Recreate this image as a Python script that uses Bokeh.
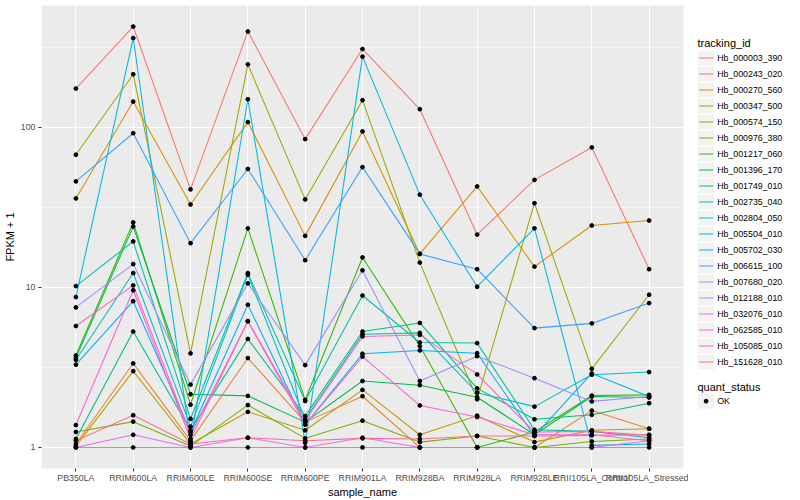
from bokeh.plotting import figure
from bokeh.models import Range1d, FixedTicker, PrintfTickFormatter, ColumnDataSource
from bokeh.layouts import row
from bokeh.core.properties import value
from bokeh.embed import file_html
from bokeh.resources import INLINE
import math

# ---------------- data ----------------
samples = ["PB350LA", "RRIM600LA", "RRIM600LE", "RRIM600SE", "RRIM600PE", "RRIM901LA",
           "RRIM928BA", "RRIM928LA", "RRIM928LE", "RRII105LA_Control", "RRII105LA_Stressed"]

Hb_000003_390 = [175, 427, 41, 398, 84.5, 309, 130, 21.4, 47, 75, 13]
Hb_000243_020 = [1.05, 3.35, 1.10, 3.62, 1.44, 2.09, 1.0, 1.0, 1.0, 1.7, 1.31]
Hb_000270_560 = [36, 145, 33, 108, 21, 94.4, 16.2, 42.8, 13.5, 24.4, 26.2]
Hb_000347_500 = [1.02, 3.0, 1.05, 1.67, 1.28, 2.29, 1.2, 1.58, 1.08, 1.28, 1.31]
Hb_000574_150 = [67.5, 215, 3.87, 248, 35.5, 148, 14.3, 2.0, 33.6, 3.1, 9.0]
Hb_000976_380 = [1.25, 1.45, 1.02, 1.84, 1.14, 1.47, 1.08, 1.18, 1.0, 1.09, 1.13]
Hb_001217_060 = [3.76, 25.5, 1.85, 23.4, 1.98, 15.4, 4.3, 1.0, 1.25, 2.11, 2.13]
Hb_001396_170 = [3.63, 24.0, 2.15, 2.1, 1.44, 2.6, 2.45, 2.06, 1.2, 2.08, 2.05]
Hb_001749_010 = [1.13, 5.3, 1.28, 4.77, 1.57, 5.3, 6.0, 2.34, 1.5, 1.6, 1.89]
Hb_002735_040 = [10.2, 19.4, 1.51, 12.3, 1.95, 8.9, 4.53, 4.49, 1.29, 1.26, 1.15]
Hb_002804_050 = [3.53, 12.3, 1.35, 12.0, 1.5, 5.1, 5.2, 2.2, 1.8, 2.85, 2.96]
Hb_005504_010 = [8.7, 362, 1.08, 150, 1.07, 277, 38, 10.1, 23.4, 1.03, 1.05]
Hb_005702_030 = [3.29, 8.2, 1.25, 7.8, 1.39, 3.85, 4.04, 3.88, 1.18, 2.9, 2.08]
Hb_006615_100 = [46, 92, 18.9, 55, 14.8, 56.5, 16.2, 13.0, 5.57, 5.96, 7.98]
Hb_007680_020 = [7.5, 14.0, 2.47, 10.6, 3.27, 12.8, 2.6, 3.72, 2.71, 1.94, 2.08]
Hb_012188_010 = [1.0, 1.0, 1.0, 1.0, 1.0, 1.0, 1.0, 1.0, 1.0, 1.0, 1.0]
Hb_032076_010 = [1.0, 1.2, 1.0, 1.15, 1.0, 1.15, 1.0, 1.0, 1.0, 1.0, 1.1]
Hb_062585_010 = [1.38, 9.6, 1.13, 6.15, 1.39, 3.7, 1.83, 1.55, 1.2, 1.2, 1.1]
Hb_105085_010 = [5.74, 10.3, 1.2, 6.15, 1.47, 4.94, 5.05, 2.86, 1.25, 1.26, 1.19]
Hb_151628_010 = [1.1, 1.59, 1.05, 1.15, 1.1, 1.14, 1.13, 1.18, 1.18, 1.19, 1.2]

tracking_ids = ["Hb_000003_390", "Hb_000243_020", "Hb_000270_560", "Hb_000347_500",
                "Hb_000574_150", "Hb_000976_380", "Hb_001217_060", "Hb_001396_170",
                "Hb_001749_010", "Hb_002735_040", "Hb_002804_050", "Hb_005504_010",
                "Hb_005702_030", "Hb_006615_100", "Hb_007680_020", "Hb_012188_010",
                "Hb_032076_010", "Hb_062585_010", "Hb_105085_010", "Hb_151628_010"]
series = [Hb_000003_390, Hb_000243_020, Hb_000270_560, Hb_000347_500, Hb_000574_150,
          Hb_000976_380, Hb_001217_060, Hb_001396_170, Hb_001749_010, Hb_002735_040,
          Hb_002804_050, Hb_005504_010, Hb_005702_030, Hb_006615_100, Hb_007680_020,
          Hb_012188_010, Hb_032076_010, Hb_062585_010, Hb_105085_010, Hb_151628_010]
colors = ["#F8766D", "#EA8331", "#D89000", "#C09B00", "#A3A500", "#7CAE00", "#39B600",
          "#00BB4E", "#00BF7D", "#00C1A3", "#00BFC4", "#00BAE0", "#00B0F6", "#35A2FF",
          "#9590FF", "#C77CFF", "#E76BF3", "#FA62DB", "#FF62BC", "#FF6C91"]
quant_status = ["OK"]

FONT = "Liberation Sans"
xs = list(range(len(samples)))

# log range with ggplot-like 5% expansion
allv = [v for s in series for v in s]
lmin, lmax = math.log10(min(allv)), math.log10(max(allv))
pad = (lmax - lmin) * 0.05

MAIN_W, H = 688, 500
p = figure(width=MAIN_W, height=H, y_axis_type="log",
           x_range=Range1d(-0.6, len(samples) - 1 + 0.6),
           y_range=Range1d(10 ** (lmin - pad), 10 ** (lmax + pad)),
           output_backend="svg", toolbar_location=None,
           min_border_left=40, min_border_right=5, min_border_top=5, min_border_bottom=0)
p.background_fill_color = "#EBEBEB"
p.border_fill_color = "white"
p.outline_line_color = None

p.xaxis.ticker = FixedTicker(ticks=xs)
p.xaxis.major_label_overrides = {i: s for i, s in enumerate(samples)}
p.yaxis.ticker = FixedTicker(ticks=[1, 10, 100], minor_ticks=[10 ** 0.5, 10 ** 1.5, 10 ** 2.5])
p.yaxis.formatter = PrintfTickFormatter(format="%d")
p.xgrid.ticker = FixedTicker(ticks=xs)

for ax in (p.xaxis[0], p.yaxis[0]):
    ax.axis_line_color = None
    ax.major_tick_line_color = "#333333"
    ax.major_tick_in = 0
    ax.major_tick_out = 3
    ax.minor_tick_line_color = None
    ax.major_label_text_font = FONT
    ax.major_label_text_font_size = "8.8px"
    ax.major_label_text_color = "#4D4D4D"
    ax.axis_label_text_font = FONT
    ax.axis_label_text_font_size = "11px"
    ax.axis_label_text_font_style = "normal"
    ax.axis_label_text_color = "black"
    ax.major_label_standoff = 2
    ax.axis_label_standoff = 2
p.xaxis.major_label_standoff = 1
p.xaxis.axis_label_standoff = 0
p.xaxis.axis_label = "sample_name"
p.yaxis.axis_label = "FPKM + 1"

p.xgrid.grid_line_color = "white"
p.xgrid.grid_line_width = 1.07
p.ygrid.grid_line_color = "white"
p.ygrid.grid_line_width = 1.07
p.ygrid.minor_grid_line_color = "white"
p.ygrid.minor_grid_line_width = 0.53

for vals, col in zip(series, colors):
    p.line(xs, vals, line_color=col, line_width=1.07)
for vals in series:
    p.scatter(xs, vals, size=3.8, marker="circle", fill_color="black", line_color="black")

# ---------------- legend panel ----------------
LW = 800 - MAIN_W
lg = figure(width=LW, height=H, x_range=Range1d(0, LW), y_range=Range1d(H, 0),
            output_backend="svg", toolbar_location=None, min_border=0)
lg.axis.visible = False
lg.grid.visible = False
lg.outline_line_color = None
lg.background_fill_color = "white"
lg.border_fill_color = "white"

key_cx = 17.6
key_y0 = 56.7
step = 17.28
ky = [key_y0 + i * step for i in range(len(tracking_ids))]
src = ColumnDataSource(dict(y=ky, col=colors, lab=tracking_ids,
                            x=[key_cx] * len(ky), x0=[key_cx - 7] * len(ky), x1=[key_cx + 7] * len(ky),
                            tx=[28.7] * len(ky)))
lg.rect(x="x", y="y", width=step, height=step, source=src, fill_color="#F2F2F2", line_color="white", line_width=1)
lg.segment(x0="x0", y0="y", x1="x1", y1="y", line_color="col", line_width=1.07, source=src)
lg.text(x="tx", y="y", text="lab", source=src, text_font=value(FONT), text_font_size="8.8px",
        text_baseline="middle", text_color="black")
lg.text(x=[9, 9], y=[40.7, 411.7], text=["tracking_id", "quant_status"], text_font=value(FONT),
        text_font_size="11px", text_baseline="middle", text_color="black")
lg.rect(x=[key_cx], y=[427.3], width=step, height=step, fill_color="#F2F2F2", line_color="white")
lg.scatter(x=[key_cx], y=[427.3], size=3.8, marker="circle", fill_color="black", line_color="black")
lg.text(x=[28.7], y=[427.3], text=quant_status, text_font=value(FONT), text_font_size="8.8px",
        text_baseline="middle", text_color="black")

layout = row(p, lg)
open("out.html", "w").write(file_html(layout, INLINE))
